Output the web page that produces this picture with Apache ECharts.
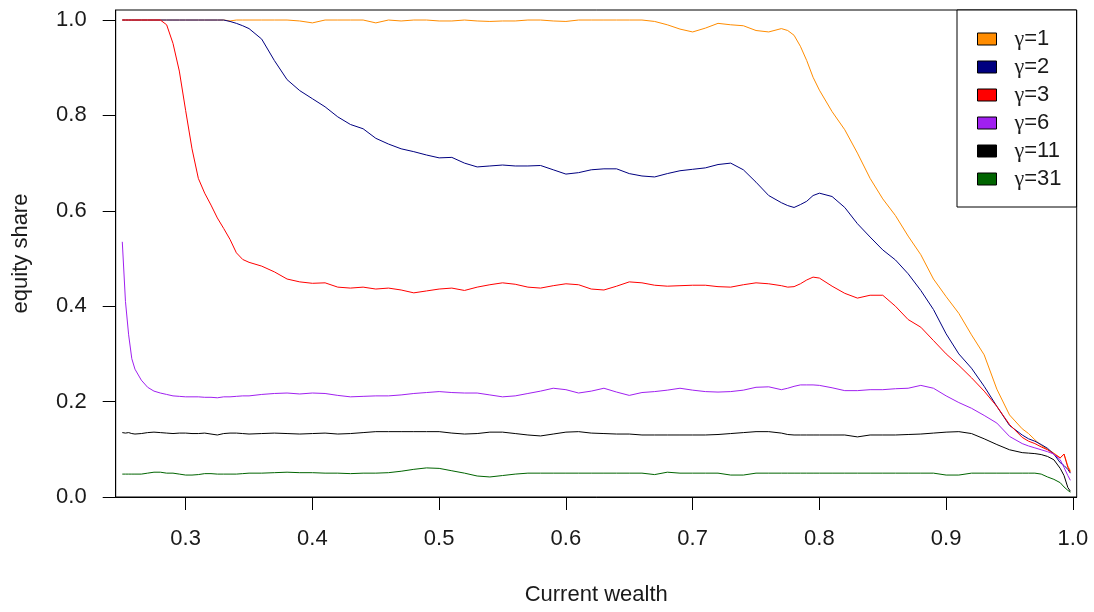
<!DOCTYPE html>
<html>
<head>
<meta charset="utf-8">
<script src="https://cdn.jsdelivr.net/npm/echarts@6/dist/echarts.min.js"></script>
<style>
html,body{margin:0;padding:0;background:#fff;}
#chart{width:1094px;height:612px;}
</style>
</head>
<body>
<div id="chart"></div>
<script>
// x grid (current wealth)
const wealth = [0.25,0.2525,0.255,0.2575,0.26,0.265,0.27,0.275,0.28,0.285,0.29,0.295,0.30,0.305,0.31,0.315,0.32,0.325,0.33,0.335,0.34,0.345,0.35,
0.36,0.37,0.38,0.39,0.40,0.41,0.42,0.43,0.44,0.45,0.46,0.47,0.48,0.49,0.50,0.51,0.52,0.53,0.54,0.55,0.56,0.57,0.58,0.59,0.60,0.61,0.62,0.63,0.64,0.65,0.66,0.67,0.68,0.69,0.70,0.71,0.72,0.73,0.74,0.75,0.76,0.77,
0.775,0.78,0.785,0.79,0.795,0.80,
0.81,0.82,0.83,0.84,0.85,0.86,0.87,0.88,0.89,0.90,0.91,0.92,0.93,0.94,0.95,0.96,
0.965,0.97,0.975,0.98,0.985,0.99,
0.993,0.996,0.998];

const gamma1 = [1,1,1,1,1,1,1,1,1,1,1,1,1,1,1,1,1,1,1,0.998,1,1,1,
1,1,1,0.998,0.994,1,1,1,1,0.994,1,0.998,1,1,0.998,0.998,1,0.998,0.997,0.998,0.998,1,1,0.998,0.997,1,1,1,1,1,1,0.997,0.99,0.981,0.975,0.983,0.993,0.99,0.988,0.978,0.975,0.982,
0.978,0.968,0.945,0.915,0.88,0.853,
0.808,0.77,0.721,0.668,0.625,0.59,0.547,0.508,0.457,0.42,0.385,0.34,0.298,0.226,0.172,0.143,
0.133,0.12,0.108,0.1,0.092,0.082,
0.09,0.065,0.055];

const gamma2 = [1,1,1,1,1,1,1,1,1,1,1,1,1,1,1,1,1,1,1,0.997,0.993,0.988,0.982,
0.96,0.915,0.875,0.852,0.835,0.818,0.797,0.781,0.772,0.752,0.74,0.73,0.724,0.717,0.711,0.712,0.70,0.692,0.694,0.696,0.694,0.694,0.695,0.686,0.677,0.68,0.686,0.688,0.688,0.678,0.673,0.671,0.678,0.684,0.687,0.69,0.697,0.70,0.686,0.66,0.632,0.617,
0.611,0.607,0.613,0.62,0.632,0.637,
0.63,0.607,0.573,0.545,0.518,0.497,0.468,0.433,0.393,0.342,0.30,0.27,0.232,0.19,0.15,0.13,
0.122,0.117,0.11,0.102,0.09,0.072,
0.066,0.058,0.05];

const gamma3 = [1,1,1,1,1,1,1,1,1,0.99,0.951,0.893,0.81,0.73,0.668,0.637,0.612,0.585,0.563,0.54,0.512,0.498,0.492,
0.484,0.472,0.457,0.451,0.448,0.449,0.44,0.438,0.44,0.436,0.438,0.434,0.428,0.432,0.436,0.438,0.433,0.44,0.445,0.449,0.446,0.44,0.438,0.443,0.447,0.445,0.436,0.434,0.442,0.451,0.449,0.444,0.442,0.443,0.444,0.444,0.441,0.44,0.445,0.449,0.447,0.443,
0.44,0.441,0.447,0.455,0.461,0.459,
0.442,0.427,0.417,0.423,0.423,0.40,0.372,0.356,0.328,0.30,0.276,0.25,0.222,0.19,0.152,0.125,
0.117,0.112,0.105,0.099,0.09,0.082,
0.09,0.062,0.052];

const gamma6 = [0.535,0.41,0.34,0.29,0.268,0.245,0.23,0.222,0.218,0.215,0.212,0.211,0.21,0.21,0.21,0.209,0.209,0.208,0.21,0.21,0.211,0.212,0.212,
0.215,0.217,0.218,0.216,0.218,0.217,0.213,0.21,0.211,0.212,0.212,0.214,0.217,0.219,0.221,0.219,0.218,0.218,0.214,0.21,0.212,0.217,0.222,0.228,0.225,0.218,0.222,0.228,0.22,0.213,0.219,0.221,0.224,0.228,0.224,0.221,0.22,0.221,0.224,0.23,0.231,0.225,
0.228,0.232,0.235,0.235,0.235,0.234,
0.229,0.223,0.223,0.225,0.225,0.227,0.228,0.234,0.228,0.212,0.198,0.186,0.171,0.155,0.127,0.112,
0.107,0.103,0.099,0.095,0.09,0.078,
0.062,0.045,0.035];

const gamma11 = [0.135,0.134,0.135,0.133,0.132,0.133,0.135,0.136,0.135,0.134,0.133,0.134,0.134,0.133,0.133,0.134,0.132,0.13,0.133,0.134,0.134,0.133,0.132,
0.133,0.134,0.133,0.132,0.133,0.134,0.132,0.133,0.135,0.137,0.137,0.137,0.137,0.137,0.137,0.134,0.132,0.133,0.136,0.136,0.133,0.13,0.128,0.132,0.136,0.137,0.134,0.133,0.132,0.132,0.13,0.13,0.13,0.13,0.13,0.13,0.131,0.133,0.135,0.137,0.137,0.134,
0.131,0.13,0.13,0.13,0.13,0.13,
0.13,0.13,0.126,0.13,0.13,0.13,0.131,0.132,0.134,0.136,0.137,0.133,0.122,0.11,0.099,0.093,
0.092,0.091,0.089,0.085,0.078,0.06,
0.045,0.02,0.012];

const gamma31 = [0.048,0.048,0.048,0.048,0.048,0.048,0.05,0.052,0.052,0.05,0.05,0.048,0.046,0.046,0.047,0.049,0.049,0.048,0.048,0.048,0.048,0.049,0.05,
0.05,0.051,0.052,0.051,0.051,0.05,0.05,0.049,0.05,0.05,0.051,0.054,0.058,0.061,0.06,0.055,0.05,0.044,0.042,0.045,0.048,0.05,0.05,0.05,0.05,0.05,0.05,0.05,0.05,0.05,0.05,0.047,0.052,0.05,0.05,0.05,0.05,0.046,0.046,0.05,0.05,0.05,
0.05,0.05,0.05,0.05,0.05,0.05,
0.05,0.05,0.05,0.05,0.05,0.05,0.05,0.05,0.05,0.046,0.046,0.05,0.05,0.05,0.05,0.05,
0.05,0.05,0.048,0.042,0.037,0.03,
0.021,0.014,0.01];

const gammaValues = ['1','2','3','6','11','31'];
const seriesNames = gammaValues.map(g => 'γ=' + g);
const seriesValues = [gamma1, gamma2, gamma3, gamma6, gamma11, gamma31];
const seriesColors = ['#FF8C00','#000080','#FF0000','#A020F0','#000000','#006400'];
const xTicks = [0.3,0.4,0.5,0.6,0.7,0.8,0.9,1.0];
const yTicks = [0,0.2,0.4,0.6,0.8,1.0];

const FONT = "'Liberation Sans', Arial, sans-serif";
const FS = 22;
const chart = echarts.init(document.getElementById('chart'), null, {renderer:'canvas'});

chart.setOption({
  animation: false,
  backgroundColor: '#fff',
  grid: {left: 115.7, right: 17.3, top: 10, bottom: 115, show: true, borderColor: '#000', borderWidth: 1, backgroundColor: 'transparent'},
  xAxis: {
    type: 'value', min: 0.2448, max: 1.003,
    name: 'Current wealth', nameLocation: 'middle', nameGap: 87,
    nameTextStyle: {fontSize: FS, fontFamily: FONT, color: '#1a1a1a'},
    axisLine: {show: true, onZero: false, lineStyle: {color: '#000', width: 1}},
    axisTick: {show: true, inside: false, length: 13, lineStyle: {color: '#000', width: 1}, customValues: xTicks},
    axisLabel: {show: true, margin: 31, fontSize: FS, fontFamily: FONT, color: '#1a1a1a', customValues: xTicks, formatter: v => v.toFixed(1)},
    splitLine: {show: false}
  },
  yAxis: {
    type: 'value', min: 0, max: 1.021,
    name: 'equity share', nameLocation: 'middle', nameGap: 84, nameRotate: 90,
    nameTextStyle: {fontSize: FS, fontFamily: FONT, color: '#1a1a1a'},
    axisLine: {show: true, onZero: false, lineStyle: {color: '#000', width: 1}},
    axisTick: {show: true, inside: false, length: 13, lineStyle: {color: '#000', width: 1}, customValues: yTicks},
    axisLabel: {show: true, margin: 29, fontSize: FS, fontFamily: FONT, color: '#1a1a1a', customValues: yTicks, formatter: v => v.toFixed(1)},
    splitLine: {show: false}
  },
  legend: {
    orient: 'vertical', left: 957, top: 10,
    padding: [18, 15, 17, 20],
    itemWidth: 19, itemHeight: 12, itemGap: 6,
    icon: 'rect',
    backgroundColor: '#fff', borderColor: '#000', borderWidth: 1, borderRadius: 0,
    itemStyle: {borderColor: '#000', borderWidth: 1},
    formatter: name => '{g|γ}{t|' + name.slice(1) + '}',
    textStyle: {
      fontSize: FS, fontFamily: FONT, color: '#1a1a1a', padding: [0,0,0,13], lineHeight: 21,
      rich: {
        g: {fontSize: FS, fontFamily: "'Liberation Serif', 'DejaVu Serif', serif", color: '#1a1a1a', lineHeight: 21},
        t: {fontSize: FS, fontFamily: FONT, color: '#1a1a1a', lineHeight: 21}
      }
    },
    data: seriesNames
  },
  series: seriesNames.map((name, k) => ({
    name: name,
    type: 'line',
    showSymbol: false,
    symbol: 'none',
    data: wealth.map((x, i) => [x, seriesValues[k][i]]),
    lineStyle: {width: 1, color: seriesColors[k]},
    itemStyle: {color: seriesColors[k]},
    emphasis: {disabled: true}
  }))
});
</script>
</body>
</html>
